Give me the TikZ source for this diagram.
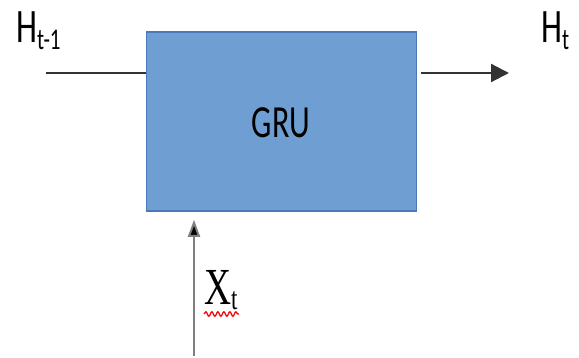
\documentclass[tikz,border=0pt]{standalone}
\usepackage{fontspec}
\setmainfont{Carlito}
\newfontfamily\serifx{Liberation Serif}
\usetikzlibrary{arrows.meta,decorations.pathmorphing}
\definecolor{boxfill}{HTML}{6F9FD2}
\definecolor{boxedge}{HTML}{4A79B9}
\definecolor{linegray}{HTML}{7F7F7F}
\tikzset{
  gru/.style={draw=boxedge, line width=1.6pt, fill=boxfill, inner sep=0pt},
  lbl/.style={inner sep=0pt, anchor=base west},
  wire/.style={line width=2.2pt, draw=black!80},
  arr/.style={wire, -{Triangle[length=18pt,width=18pt]}},
  uparr/.style={line width=2pt, draw=linegray, -{Triangle[length=17pt,width=12pt,fill=black]}},
}
\begin{document}
\begin{tikzpicture}[x=1pt,y=-1pt]
\useasboundingbox (0,0) rectangle (579,358);
\node[gru, minimum width=270pt, minimum height=179pt] (box) at (281.5,121.5) {};
\node[inner sep=0pt] (gru) at (281,123) {\scalebox{0.7}[1]{\fontsize{46}{46}\selectfont GRU}};
% labels
\node[lbl] (hin) at (16,43) {\scalebox{0.7}[1]{\fontsize{48}{48}\selectfont H\raisebox{-7pt}{\fontsize{30}{30}\selectfont t-1}}};
\node[lbl] (hout) at (541,43) {\scalebox{0.7}[1]{\fontsize{48}{48}\selectfont H\raisebox{-7pt}{\fontsize{30}{30}\selectfont t}}};
\node[lbl] (xt) at (204,305) {\scalebox{0.72}[1]{\serifx\fontsize{52}{52}\selectfont X\raisebox{-5pt}{\fontsize{32}{32}\selectfont t}}};
% connectors
\coordinate (lin) at (46,73);
\coordinate (rout) at (509,73);
\coordinate (xin) at (194,356);
\draw[wire] (lin) -- (box.west |- lin);
\draw[arr] ([xshift=4pt]box.east |- rout) -- (rout);
\draw[uparr] (xin) -- ([yshift=-8pt]box.south -| xin);
% red squiggly underline
\draw[red, line width=1.3pt, decorate, decoration={snake, amplitude=2.2pt, segment length=6pt}]
  ([shift={(0,9)}]xt.base west) -- ([shift={(35,9)}]xt.base west);
\end{tikzpicture}
\end{document}
